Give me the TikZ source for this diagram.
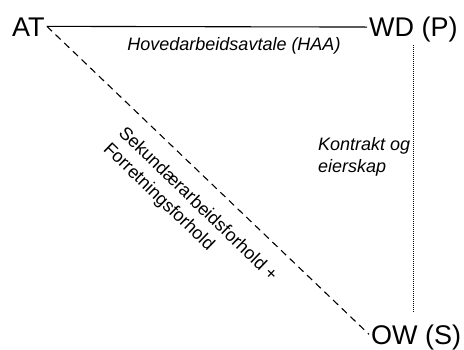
\documentclass[tikz,border=0pt]{standalone}
\usepackage{fontspec}
\setmainfont{Liberation Sans}
\begin{document}
\begin{tikzpicture}[x=1pt,y=-1pt,
  corner/.style={font=\fontsize{27}{32}\selectfont, inner sep=0pt, inner xsep=2pt,
                 text height=19.3pt, text depth=0pt},
  lbl/.style={font=\fontsize{18}{22}\selectfont\itshape, inner sep=0pt},
  slant/.style={font=\fontsize{18}{22}\selectfont, inner sep=0pt, rotate=-44,
                anchor=north west, align=left},
  link/.style={line width=1.1pt},
  dashlink/.style={line width=1.1pt, dash pattern=on 7pt off 5pt},
  dotlink/.style={line width=1.3pt, dash pattern=on 1pt off 1pt}]
\useasboundingbox (0,0) rectangle (464,349);

% the three parties
\node[corner, anchor=base west] (at) at (10,36) {AT};
\node[corner, anchor=base west] (wd) at (367,36.7) {WD (P)};
\node[corner, anchor=base west] (ow) at (369,344) {OW (S)};

% relations between them
\draw[link] (at.east) -- (wd.west);
\draw[dashlink] (at.east) -- (ow.west);
\draw[dotlink, shorten <=8pt, shorten >=12pt] (wd.south) -- (wd.south |- ow.north);

% relation labels
\node[lbl, anchor=base] (haa) at (234,50) {Hovedarbeidsavtale (HAA)};
\node[lbl, align=left, anchor=north west] (ko) at (318,137) {Kontrakt og\\eierskap};
\node[slant] (sek) at (127,124.6) {Sekundærarbeidsforhold +\\Forretningsforhold};
\end{tikzpicture}
\end{document}
